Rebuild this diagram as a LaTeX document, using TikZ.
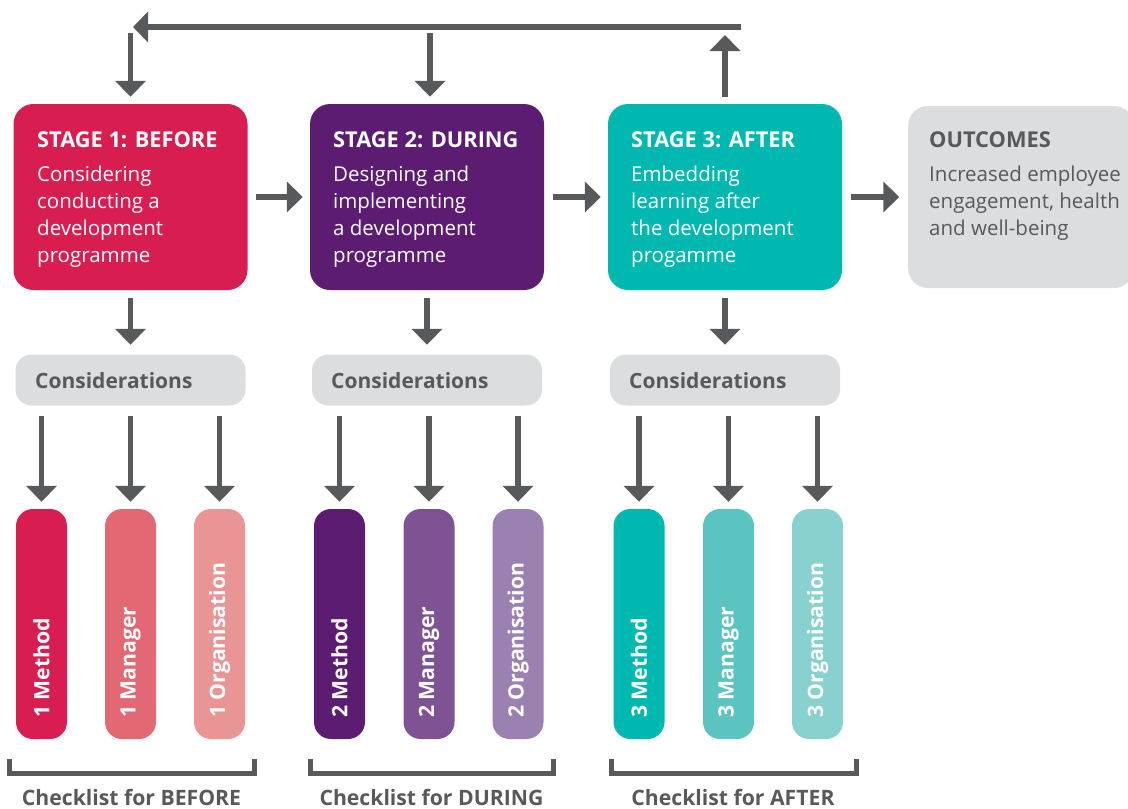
\documentclass[tikz,border=0pt]{standalone}
\usepackage{fontspec}
\setmainfont{Open Sans}
\usetikzlibrary{arrows.meta}
\definecolor{gtext}{HTML}{58595B}
\definecolor{garrow}{HTML}{58595B}
\definecolor{gbox}{HTML}{DCDDDE}
\definecolor{sA}{HTML}{D81E51}
\definecolor{sAb}{HTML}{E26974}
\definecolor{sAc}{HTML}{E99495}
\definecolor{sB}{HTML}{5B1C72}
\definecolor{sBb}{HTML}{7D5393}
\definecolor{sBc}{HTML}{9B80B2}
\definecolor{sC}{HTML}{00B8B0}
\definecolor{sCb}{HTML}{5BC4C0}
\definecolor{sCc}{HTML}{88D1CF}
\tikzset{
  stagebox/.style={fill=#1, rounded corners=20pt, minimum width=234pt, minimum height=186pt, inner sep=0pt, draw=none},
  consbox/.style={fill=gbox, rounded corners=16pt, minimum width=230pt, minimum height=51pt, inner sep=0pt},
  barbox/.style={fill=#1, rounded corners=17pt, minimum width=51pt, minimum height=230pt, inner sep=0pt},
  arr/.style={draw=garrow, line width=5.5pt, -{Triangle[width=30pt,length=16pt]}},
  brk/.style={draw=garrow, line width=5pt},
  head/.style={anchor=base west, inner sep=0pt, font=\fontsize{21.8}{26}\selectfont\bfseries},
  body/.style={anchor=base west, inner sep=0pt, font=\fontsize{20.5}{27}\selectfont},
  conslbl/.style={anchor=base west, inner sep=0pt, text=gtext, font=\fontsize{21}{25}\selectfont\bfseries},
  barlbl/.style={rotate=90, anchor=west, inner sep=0pt, text=white, font=\fontsize{21.2}{25}\selectfont\bfseries},
  chk/.style={anchor=base, inner sep=0pt, text=gtext, font=\fontsize{21.2}{25}\selectfont\bfseries},
}
\newcommand{\lines}[1]{\begin{tabular}[t]{@{}l@{}}#1\end{tabular}}
\begin{document}
\begin{tikzpicture}[x=1pt,y=-1pt]
\useasboundingbox (0,0) rectangle (1128,809);
% stage boxes
\node[stagebox=sA] (s1) at (130.5,197) {};
\node[stagebox=sB] (s2) at (427,197) {};
\node[stagebox=sC] (s3) at (725,197) {};
\node[fill=gbox, rounded corners=20pt, minimum width=226pt, minimum height=182pt, inner sep=0pt] (out) at (1021,197) {};
% stage texts
\node[head, text=white] (h1) at (37,147) {STAGE 1: BEFORE};
\node[body, text=white] (b1) at (37,181) {\lines{Considering\\conducting a\\development\\programme}};
\node[head, text=white] (h2) at (333,147) {STAGE 2: DURING};
\node[body, text=white] (b2) at (333,181) {\lines{Designing and\\implementing\\a development\\programme}};
\node[head, text=white] (h3) at (631,147) {STAGE 3: AFTER};
\node[body, text=white] (b3) at (631,181) {\lines{Embedding\\learning after\\the development\\progamme}};
\node[head, text=gtext] (h4) at (929,147) {OUTCOMES};
\node[body, text=gtext] (b4) at (929,181) {\lines{Increased employee\\engagement, health\\and well-being}};
% considerations
\node[consbox] (c1) at (130.5,380) {};
\node[consbox] (c2) at (427,380) {};
\node[consbox] (c3) at (725,380) {};
\node[conslbl] (cl1) at (35,388) {Considerations};
\node[conslbl] (cl2) at (331,388) {Considerations};
\node[conslbl] (cl3) at (629,388) {Considerations};
% bars
\node[barbox=sA]  (m1) at (41.5,624) {};
\node[barbox=sAb] (g1) at (130.5,624) {};
\node[barbox=sAc] (o1) at (219.5,624) {};
\node[barbox=sB]  (m2) at (339.5,624) {};
\node[barbox=sBb] (g2) at (429,624) {};
\node[barbox=sBc] (o2) at (518,624) {};
\node[barbox=sC]  (m3) at (639,624) {};
\node[barbox=sCb] (g3) at (728.5,624) {};
\node[barbox=sCc] (o3) at (817.5,624) {};
\node[barlbl] at (41.5,718) {1 Method};
\node[barlbl] at (130.5,718) {1 Manager};
\node[barlbl] at (219.5,718) {1 Organisation};
\node[barlbl] at (339.5,718) {2 Method};
\node[barlbl] at (429,718) {2 Manager};
\node[barlbl] at (518,718) {2 Organisation};
\node[barlbl] at (639,718) {3 Method};
\node[barlbl] at (728.5,718) {3 Manager};
\node[barlbl] at (817.5,718) {3 Organisation};
% horizontal arrows
\draw[arr, shorten <=8.5pt, shorten >=7pt] (s1.east) -- (s2.west);
\draw[arr, shorten <=8.5pt, shorten >=7pt] (s2.east) -- (s3.west);
\draw[arr, shorten <=8.5pt, shorten >=8.5pt] (s3.east) -- (out.west);
% stage to considerations
\draw[arr, shorten <=8pt, shorten >=9.5pt] (s1.south) -- (c1.north);
\draw[arr, shorten <=8pt, shorten >=9.5pt] (s2.south) -- (c2.north);
\draw[arr, shorten <=8pt, shorten >=9.5pt] (s3.south) -- (c3.north);
% considerations to bars
\foreach \c/\b in {c1/m1,c1/g1,c1/o1,c2/m2,c2/g2,c2/o2,c3/m3,c3/g3,c3/o3}{
  \draw[arr, shorten <=10pt, shorten >=7pt] (\c.south -| \b.north) -- (\b.north);
}
% feedback loop
\coordinate (fr) at (741,27);
\coordinate (fl) at (133,27);
\coordinate (d1) at (130.5,33);
\coordinate (d2) at (430,33);
\coordinate (u3) at (725,35);
\draw[arr, shorten <=7pt] (s3.north) -- (u3);
\draw[draw=garrow, line width=5.5pt, -{Triangle[width=30pt,length=15pt]}] (fr) -- (fl);
\draw[arr, shorten >=7pt] (d1) -- (d1 |- s1.north);
\draw[arr, shorten >=7pt] (d2) -- (d2 |- s2.north);
% brackets
\draw[brk] (9,759) -- (9,773.5) -- (254,773.5) -- (254,759);
\draw[brk] (310,759) -- (310,773.5) -- (553,773.5) -- (553,759);
\draw[brk] (611,759) -- (611,773.5) -- (856,773.5) -- (856,759);
\node[chk] (k1) at (131.5,805) {Checklist for BEFORE};
\node[chk] (k2) at (431.5,805) {Checklist for DURING};
\node[chk] (k3) at (733,805) {Checklist for AFTER};
\end{tikzpicture}
\end{document}
